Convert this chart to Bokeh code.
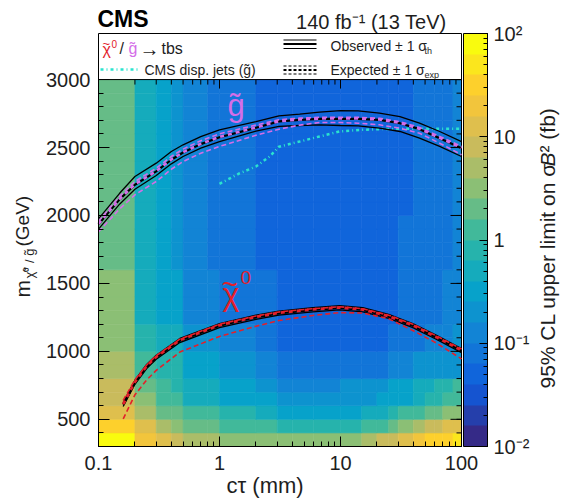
import numpy as np
from bokeh.plotting import figure
from bokeh.models import (ColumnDataSource, LogColorMapper, ColorBar, LogTicker, LogAxis,
                          FixedTicker, LinearAxis, Label, Range1d)
from bokeh.transform import transform
from bokeh.embed import file_html
from bokeh.resources import INLINE

# ------------------------------------------------------------------ data
ct_edges = [0.1, 0.2, 0.3, 0.4, 0.5, 0.8, 1, 2, 3, 4, 6, 10, 15, 20, 25, 30, 40, 50, 60, 70, 85, 100]
mass_edges = [300, 400, 500, 600, 700, 800, 900, 1000, 1100, 1200, 1300, 1400, 1500, 1600,
              1700, 1800, 1900, 2000, 2100, 2200, 2300, 2400, 2500, 2600, 2700, 2800, 2900, 3000]

# 95% CL upper limit on sigma*B^2 (fb); rows = mass bins (bottom -> top), columns = ct bins
limit_fb = [
    [80, 20, 13, 8, 5, 5, 3.2, 3.2, 3.2, 3.2, 3.2, 3.2, 5, 8, 8, 13, 20, 32, 32, 32, 50],            # 300
    [32, 13, 5, 3.2, 2, 2, 1.3, 1.3, 0.8, 0.8, 0.8, 0.8, 1.3, 1.3, 2, 3.2, 5, 8, 8, 13, 13],          # 400
    [13, 5, 2, 2, 1.3, 1.3, 0.8, 0.5, 0.32, 0.32, 0.32, 0.32, 0.5, 0.5, 0.8, 1.3, 1.3, 2, 2, 3.2, 3.2],  # 500
    [8, 3.2, 1.3, 1.3, 0.5, 0.5, 0.32, 0.32, 0.2, 0.2, 0.2, 0.2, 0.2, 0.32, 0.32, 0.32, 0.5, 0.8, 0.8, 1.3, 1.3],  # 600
    [8, 2, 1.3, 0.8, 0.5, 0.5, 0.32, 0.2, 0.13, 0.13, 0.13, 0.2, 0.2, 0.2, 0.32, 0.32, 0.5, 0.5, 0.8, 0.8, 1.3],   # 700
    [5, 1.3, 0.8, 0.8, 0.32, 0.32, 0.2, 0.13, 0.08, 0.08, 0.08, 0.08, 0.08, 0.08, 0.13, 0.13, 0.2, 0.2, 0.2, 0.2, 0.2],  # 800
    [5, 1.3, 0.8, 0.8, 0.32, 0.32, 0.2, 0.13, 0.08, 0.08, 0.08, 0.08, 0.08, 0.08, 0.13, 0.13, 0.2, 0.2, 0.2, 0.2, 0.2],  # 900
    [3.2, 0.8, 0.5, 0.5, 0.2, 0.2, 0.13, 0.08, 0.05, 0.05, 0.05, 0.05, 0.05, 0.05, 0.08, 0.08, 0.08, 0.13, 0.13, 0.13, 0.2],  # 1000
    [3.2, 0.8, 0.5, 0.5, 0.2, 0.2, 0.13, 0.08, 0.05, 0.05, 0.05, 0.05, 0.05, 0.05, 0.08, 0.08, 0.08, 0.13, 0.13, 0.13, 0.2],  # 1100
    [3.2, 0.5, 0.32, 0.32, 0.13, 0.13, 0.08, 0.08, 0.05, 0.05, 0.05, 0.05, 0.05, 0.05, 0.05, 0.08, 0.08, 0.08, 0.08, 0.13, 0.13],  # 1200
    [3.2, 0.5, 0.32, 0.32, 0.13, 0.13, 0.08, 0.08, 0.05, 0.05, 0.05, 0.05, 0.05, 0.05, 0.05, 0.08, 0.08, 0.08, 0.08, 0.13, 0.13],  # 1300
    [3.2, 0.5, 0.32, 0.32, 0.13, 0.13, 0.08, 0.08, 0.05, 0.05, 0.05, 0.05, 0.05, 0.05, 0.05, 0.08, 0.08, 0.08, 0.08, 0.13, 0.13],  # 1400
    [3.2, 0.5, 0.32, 0.32, 0.13, 0.13, 0.08, 0.08, 0.05, 0.05, 0.05, 0.05, 0.05, 0.05, 0.05, 0.08, 0.08, 0.08, 0.08, 0.13, 0.13],  # 1500
    [2, 0.5, 0.32, 0.2, 0.13, 0.08, 0.08, 0.05, 0.05, 0.05, 0.05, 0.05, 0.05, 0.05, 0.05, 0.08, 0.08, 0.08, 0.08, 0.08, 0.13],  # 1600
    [2, 0.5, 0.32, 0.2, 0.13, 0.08, 0.08, 0.05, 0.05, 0.05, 0.05, 0.05, 0.05, 0.05, 0.05, 0.08, 0.08, 0.08, 0.08, 0.08, 0.13],  # 1700
    [2, 0.5, 0.32, 0.2, 0.13, 0.08, 0.08, 0.05, 0.05, 0.05, 0.05, 0.05, 0.05, 0.05, 0.05, 0.08, 0.08, 0.08, 0.08, 0.08, 0.13],  # 1800
    [2, 0.5, 0.32, 0.2, 0.13, 0.08, 0.08, 0.05, 0.05, 0.05, 0.05, 0.05, 0.05, 0.05, 0.05, 0.08, 0.08, 0.08, 0.08, 0.08, 0.13],  # 1900
    [2, 0.5, 0.32, 0.2, 0.13, 0.08, 0.08, 0.05, 0.05, 0.05, 0.05, 0.05, 0.05, 0.05, 0.05, 0.05, 0.08, 0.08, 0.08, 0.08, 0.13],  # 2000
    [2, 0.5, 0.32, 0.2, 0.13, 0.08, 0.08, 0.05, 0.05, 0.05, 0.05, 0.05, 0.05, 0.05, 0.05, 0.05, 0.08, 0.08, 0.08, 0.08, 0.13],  # 2100
    [2, 0.5, 0.32, 0.2, 0.13, 0.08, 0.08, 0.05, 0.05, 0.05, 0.05, 0.05, 0.05, 0.05, 0.05, 0.05, 0.08, 0.08, 0.08, 0.08, 0.13],  # 2200
    [2, 0.5, 0.32, 0.2, 0.13, 0.08, 0.08, 0.05, 0.05, 0.05, 0.05, 0.05, 0.05, 0.05, 0.05, 0.05, 0.08, 0.08, 0.08, 0.08, 0.13],  # 2300
    [2, 0.5, 0.32, 0.2, 0.13, 0.08, 0.08, 0.05, 0.05, 0.05, 0.05, 0.05, 0.05, 0.05, 0.05, 0.05, 0.08, 0.08, 0.08, 0.08, 0.13],  # 2400
    [2, 0.5, 0.32, 0.2, 0.13, 0.08, 0.08, 0.05, 0.05, 0.05, 0.05, 0.05, 0.05, 0.05, 0.05, 0.05, 0.08, 0.08, 0.08, 0.08, 0.13],  # 2500
    [2, 0.5, 0.32, 0.2, 0.13, 0.08, 0.08, 0.05, 0.05, 0.05, 0.05, 0.05, 0.05, 0.05, 0.05, 0.05, 0.08, 0.08, 0.08, 0.08, 0.13],  # 2600
    [2, 0.5, 0.32, 0.2, 0.13, 0.08, 0.08, 0.05, 0.05, 0.05, 0.05, 0.05, 0.05, 0.05, 0.05, 0.05, 0.08, 0.08, 0.08, 0.08, 0.13],  # 2700
    [2, 0.5, 0.32, 0.2, 0.13, 0.08, 0.08, 0.05, 0.05, 0.05, 0.05, 0.05, 0.05, 0.05, 0.05, 0.05, 0.08, 0.08, 0.08, 0.08, 0.13],  # 2800
    [2, 0.5, 0.32, 0.2, 0.13, 0.08, 0.08, 0.05, 0.05, 0.05, 0.05, 0.05, 0.05, 0.05, 0.05, 0.05, 0.08, 0.08, 0.08, 0.08, 0.13],  # 2900
]

# gluino contours (GeV) vs c*tau (mm)
ct_gluino = [0.1, 0.15, 0.2, 0.3, 0.4, 0.5, 0.7, 1, 2, 3.1, 4.6, 6.7, 10, 14, 21, 31, 45, 66, 100]
gluino_obs_up = [1975, 2165, 2287, 2385, 2471, 2520, 2580, 2630, 2690, 2733, 2745, 2760, 2772, 2770, 2753, 2728, 2679, 2618, 2544]
gluino_obs = [1935, 2120, 2226, 2324, 2410, 2463, 2525, 2576, 2645, 2692, 2704, 2711, 2711, 2711, 2704, 2679, 2635, 2569, 2495]
gluino_obs_dn = [1900, 2085, 2193, 2294, 2380, 2434, 2495, 2544, 2620, 2655, 2662, 2667, 2662, 2660, 2642, 2618, 2569, 2508, 2434]
gluino_exp = [1938, 2122, 2229, 2326, 2412, 2465, 2527, 2578, 2647, 2694, 2706, 2713, 2713, 2713, 2706, 2681, 2637, 2571, 2497]
gluino_exp_up = [1957, 2142, 2250, 2348, 2434, 2488, 2550, 2601, 2665, 2705, 2716, 2722, 2722, 2722, 2715, 2690, 2648, 2582, 2508]
gluino_exp_dn = [1880, 2050, 2152, 2250, 2340, 2397, 2458, 2508, 2590, 2635, 2665, 2684, 2684, 2679, 2667, 2642, 2605, 2532, 2447]

# neutralino contours (GeV) vs c*tau (mm)
ct_chi = [0.16, 0.2, 0.25, 0.3, 0.47, 1, 2, 3.1, 5.9, 9.8, 15.3, 25, 39.6, 61.7, 100]
chi_obs_up = [624, 788, 904, 972, 1095, 1205, 1266, 1296, 1321, 1336, 1321, 1272, 1205, 1119, 1021]
chi_obs = [609, 773, 889, 957, 1080, 1190, 1251, 1281, 1306, 1321, 1306, 1257, 1190, 1104, 1006]
chi_obs_dn = [594, 758, 874, 942, 1065, 1175, 1236, 1266, 1291, 1306, 1291, 1242, 1175, 1089, 991]
chi_exp = [612, 776, 892, 960, 1083, 1193, 1254, 1284, 1309, 1323, 1308, 1259, 1192, 1106, 1008]
chi_exp_up = [640, 790, 900, 968, 1090, 1200, 1260, 1290, 1314, 1328, 1314, 1266, 1200, 1115, 1018]
chi_exp_dn = [504, 680, 790, 860, 995, 1110, 1185, 1227, 1264, 1285, 1282, 1240, 1154, 1062, 945]

# previous CMS displaced-jets gluino limit
ct_cms = [1.0, 1.47, 2.0, 2.6, 3.1, 4.6, 6.7, 9.8, 14.4, 21, 31, 45, 100]
mass_cms = [2233, 2311, 2360, 2434, 2506, 2544, 2581, 2618, 2630, 2635, 2638, 2638, 2638]

colorbar_labels = {0.01: "10\u207b\u00b2", 0.1: "10\u207b\u00b9", 1: "1", 10: "10", 100: "10\u00b2"}
x_tick_labels = {0.1: "0.1", 1: "1", 10: "10", 100: "100"}
y_major = [500, 1000, 1500, 2000, 2500, 3000]
y_minor = list(range(300, 3001, 100))
x_major = [0.1, 1, 10, 100]
x_minor = [m * d for d in (0.1, 1, 10) for m in range(2, 10)]

# ------------------------------------------------------------------ style / geometry
FONT = "Liberation Sans"
TXT = "#1e1e1e"
MAG = "#d46ee8"
RED = "#e3202a"
CYAN = "#2ae3cf"

W, H = 561, 498
FX0, FX1 = 98, 461        # plot box pixels (left, right)
FY_BOT, FY_TOP = 446, 33  # plot box pixels (bottom, top of legend band)
PX_PER_DEC = (FX1 - FX0) / 3.0
PX_PER_GEV = 0.1359
M_LOW = 300.0
BASE_SHIFT = 0.3          # label baseline correction, in em


def X(px):
    return 10 ** (-1 + (px - FX0) / PX_PER_DEC)


def Y(py):
    return M_LOW + (FY_BOT - py) / PX_PER_GEV


# kBird palette, 20 contour bands
stops = [0.0, 0.125, 0.25, 0.375, 0.5, 0.625, 0.75, 0.875, 1.0]
rr = [0.2082, 0.0592, 0.0780, 0.0232, 0.1802, 0.5301, 0.8186, 0.9956, 0.9764]
gg = [0.1664, 0.3599, 0.5041, 0.6419, 0.7178, 0.7492, 0.7328, 0.7862, 0.9832]
bb = [0.5293, 0.8684, 0.8385, 0.7914, 0.6425, 0.4662, 0.3499, 0.1968, 0.0539]
palette = []
for i in range(20):
    f = i / 19.0
    palette.append("#%02x%02x%02x" % (int(round(255 * np.interp(f, stops, rr))),
                                       int(round(255 * np.interp(f, stops, gg))),
                                       int(round(255 * np.interp(f, stops, bb)))))
mapper = LogColorMapper(palette=palette, low=0.01, high=100)

p = figure(width=W, height=H, min_border=0, x_axis_type="log",
           x_axis_location=None, y_axis_location=None,
           x_range=Range1d(X(0), X(W)), y_range=Range1d(Y(H), Y(0)),
           toolbar_location=None, output_backend="svg",
           background_fill_color="white", border_fill_color="white", outline_line_color=None)
p.grid.visible = False

# heat map cells
L, R, B, T, V = [], [], [], [], []
for j in range(len(mass_edges) - 1):
    for i in range(len(ct_edges) - 1):
        L.append(ct_edges[i]); R.append(ct_edges[i + 1])
        B.append(mass_edges[j]); T.append(mass_edges[j + 1])
        V.append(limit_fb[j][i])
src = ColumnDataSource(dict(left=L, right=R, bottom=B, top=T, value=V))
p.quad(left="left", right="right", bottom="bottom", top="top", source=src,
       fill_color=transform("value", mapper), line_color=transform("value", mapper), line_width=0.6)

# box lines: heat-map top, legend top, right side
xlo, xhi = ct_edges[0], ct_edges[-1]
ylo, yhi = mass_edges[0], mass_edges[-1]
p.line([xlo, xhi], [yhi, yhi], line_color="black", line_width=1)
p.line([xlo, xhi], [Y(FY_TOP), Y(FY_TOP)], line_color="black", line_width=1)
p.line([xhi, xhi], [ylo, Y(FY_TOP)], line_color="black", line_width=1)

# top ticks (pointing down from the heat-map top) and right ticks (pointing left)
p.segment(x0=x_major, x1=x_major, y0=[yhi] * len(x_major), y1=[yhi - 9 / PX_PER_GEV] * len(x_major),
          line_color="black", line_width=1)
p.segment(x0=x_minor, x1=x_minor, y0=[yhi] * len(x_minor), y1=[yhi - 5 / PX_PER_GEV] * len(x_minor),
          line_color="black", line_width=1)
p.segment(x0=[xhi] * len(y_major), x1=[xhi / 10 ** (11 / PX_PER_DEC)] * len(y_major), y0=y_major, y1=y_major,
          line_color="black", line_width=1)
p.segment(x0=[xhi] * len(y_minor), x1=[xhi / 10 ** (5 / PX_PER_DEC)] * len(y_minor), y0=y_minor, y1=y_minor,
          line_color="black", line_width=1)

# contours
p.line(ct_cms, mass_cms, line_color=CYAN, line_width=2.5, line_dash="3 3 1 3")
p.line(ct_gluino, gluino_obs_up, line_color="black", line_width=1.3)
p.line(ct_gluino, gluino_obs_dn, line_color="black", line_width=1.3)
p.line(ct_gluino, gluino_obs, line_color="black", line_width=2.2)
p.line(ct_gluino, gluino_exp_up, line_color=MAG, line_width=1.6, line_dash="5 3")
p.line(ct_gluino, gluino_exp_dn, line_color=MAG, line_width=1.6, line_dash="5 3")
p.line(ct_gluino, gluino_exp, line_color=MAG, line_width=2.6, line_dash="4 4")

p.line(ct_chi, chi_obs_up, line_color="black", line_width=1.3)
p.line(ct_chi, chi_obs_dn, line_color="black", line_width=1.3)
p.line(ct_chi, chi_obs, line_color="black", line_width=2.6)
p.line(ct_chi, chi_exp_up, line_color=RED, line_width=1.6, line_dash="5 3")
p.line(ct_chi, chi_exp_dn, line_color=RED, line_width=1.6, line_dash="5 3")
p.line(ct_chi, chi_exp, line_color=RED, line_width=2.8, line_dash="4 4")

# axes (fixed at the plot box edges)
xa = LogAxis(fixed_location=ylo, bounds=(xlo, xhi), ticker=LogTicker(num_minor_ticks=10),
             major_label_overrides=x_tick_labels,
             major_tick_in=10, major_tick_out=0, minor_tick_in=5, minor_tick_out=0,
             major_label_standoff=9, major_label_text_font=FONT, major_label_text_font_size="20px",
             major_label_text_color=TXT, axis_line_color="black",
             major_tick_line_color="black", minor_tick_line_color="black")
p.add_layout(xa, "below")

ya = LinearAxis(fixed_location=xlo, bounds=(ylo, Y(FY_TOP)),
                ticker=FixedTicker(ticks=y_major, minor_ticks=y_minor),
                major_tick_in=11, major_tick_out=0, minor_tick_in=5, minor_tick_out=0,
                major_label_standoff=8, major_label_text_font=FONT, major_label_text_font_size="20px",
                major_label_text_color=TXT, axis_line_color="black",
                major_tick_line_color="black", minor_tick_line_color="black")
p.add_layout(ya, "left")

cb = ColorBar(color_mapper=mapper, ticker=LogTicker(num_minor_ticks=10),
              location=(463, H - FY_BOT), width=24, height=FY_BOT - FY_TOP,
              padding=0, margin=0, label_standoff=6,
              major_label_overrides=colorbar_labels,
              major_label_text_font=FONT, major_label_text_font_size="20px",
              major_label_text_color=TXT,
              major_tick_in=8, major_tick_out=0, minor_tick_in=4, minor_tick_out=0,
              major_tick_line_color="black", minor_tick_line_color="black",
              bar_line_color="black", background_fill_color=None, border_line_color=None)
p.add_layout(cb)


def lab(text, px, py, size, color=TXT, style="normal", align="left", angle=0.0):
    # (px, py): wanted position of the alphabetic baseline, in picture pixels
    if angle == 0.0:
        py = py - BASE_SHIFT * size
    else:
        px = px - BASE_SHIFT * size
    p.add_layout(Label(x=X(px), y=Y(py), text=text, text_font=FONT, text_font_size="%gpx" % size,
                       text_color=color, text_font_style=style, text_align=align,
                       text_baseline="alphabetic", angle=angle))


def seg(px0, px1, py, **kw):
    p.line([X(px0), X(px1)], [Y(py), Y(py)], **kw)


# header
lab("CMS", 97, 25, 23, color="black", style="bold")
lab("140 fb\u207b\u00b9 (13 TeV)", 446, 27, 20, align="right")

# legend (top band of the plot box)
lab("~", 102, 47, 13, color=RED)
lab("\u03c7", 102, 54, 16, color=RED)
lab("0", 111, 46, 10, color=RED)
lab("/", 119, 53, 16)
lab("g\u0303", 128, 53, 16, color=MAG)
lab("\u2192", 139, 54, 20)
lab("tbs", 161, 53, 16)
seg(100, 138, 69, line_color=CYAN, line_width=2.5, line_dash="3 3 1 3")
lab("CMS disp. jets (g\u0303)", 144, 74, 14)

seg(283, 316, 39.5, line_color="black", line_width=1.2)
seg(283, 316, 43.5, line_color="black", line_width=2.2)
seg(283, 316, 48, line_color="black", line_width=1.2)
lab("Observed \u00b1 1 \u03c3", 330, 50, 14)
lab("th", 424, 53, 9)
seg(283, 316, 65.5, line_color="black", line_width=1.2, line_dash="3 2")
seg(283, 316, 69.5, line_color="black", line_width=2.2, line_dash="3 2")
seg(283, 316, 73.5, line_color="black", line_width=1.2, line_dash="3 2")
lab("Expected \u00b1 1 \u03c3", 330, 74, 14)
lab("exp", 424, 77, 9)

# curve labels
lab("g\u0303", 227, 114, 31, color=MAG)
lab("~", 221, 292, 28, color=RED)
lab("\u03c7", 222, 303, 32, color=RED)
lab("0", 240, 283, 19, color=RED)

# axis titles
lab("c\u03c4 (mm)", 226, 492, 22)
ANG = np.pi / 2
lab("m", 28, 297, 21, angle=ANG)
lab("\u03c7\u0303\u2070 / g\u0303", 33, 278, 13, angle=ANG)
lab("(GeV)", 28, 246, 19, angle=ANG)
lab("95% CL upper limit on \u03c3", 553, 388, 21, angle=ANG)
lab("B", 553, 166, 21, style="italic", angle=ANG)
lab("\u00b2 (fb)", 553, 152, 21, angle=ANG)

open("out.html", "w").write(file_html(p, INLINE))
